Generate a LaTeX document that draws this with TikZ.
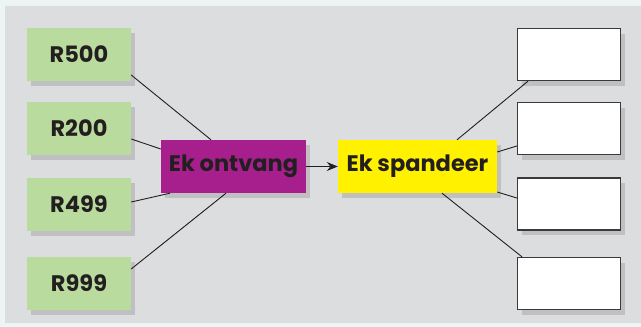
\documentclass[tikz,border=0pt]{standalone}
\usepackage{fontspec}
\setmainfont{Poppins}
\usepackage{xcolor}
\usetikzlibrary{arrows.meta, positioning, shadows}
\definecolor{cgreen}{HTML}{B9DC9E}
\definecolor{cpurple}{HTML}{A61F8D}
\definecolor{cyellow}{HTML}{FFF100}
\definecolor{cpanel}{HTML}{DCDDDF}
\definecolor{cframe}{HTML}{EDF4F4}
\definecolor{cline}{HTML}{231F20}
\definecolor{cedge}{HTML}{3A3A3C}

\begin{document}
\begin{tikzpicture}[
  x=1pt, y=-1pt,
  font=\fontsize{22.5}{26}\selectfont\bfseries,
  >={Stealth[length=11pt, width=9pt]},
  box/.style={minimum height=53pt, inner sep=0pt, text=cline,
              drop shadow={shadow xshift=4pt, shadow yshift=-5pt, opacity=0.3}},
  amount/.style={box, fill=cgreen, minimum width=104pt},
  getbox/.style={box, fill=cpurple, minimum width=145pt},
  spendbox/.style={box, fill=cyellow, minimum width=159pt},
  blank/.style={box, fill=white, draw=cedge, line width=1.3pt, minimum width=103pt, minimum height=52pt},
  link/.style={draw=cline, line width=0.9pt},
  ]
\useasboundingbox (0,0) rectangle (641,327);
% ---- background
\fill[cframe] (0,0) rectangle (641,327);
\fill[cpanel] (5,6) rectangle (641,323);
% ---- left column: amounts
\node[amount] (r500) at (79,54.5)  {R500};
\node[amount] (r200) at (79,128.5) {R200};
\node[amount] (r499) at (79,204.5) {R499};
\node[amount] (r999) at (79,283.5) {R999};
% ---- middle row
\node[getbox]   (ontv) at (233.5,166.5) {Ek ontvang};
\node[spendbox] (spnd) at (417.5,166.5) {Ek spandeer};
% ---- right column: empty boxes
\node[blank] (w1) at (569,54.5)  {};
\node[blank] (w2) at (569,128.5) {};
\node[blank] (w3) at (569,204)   {};
\node[blank] (w4) at (569,283.5) {};
% links left
\draw[link] ([yshift=-20.5pt]r500.east) -- ([xshift=-22.5pt]ontv.north);
\draw[link] ([yshift=-10.5pt]r200.east) -- ([yshift=17.5pt]ontv.west);
\draw[link] ([yshift=2.5pt]r499.east)   -- ([xshift=-63.5pt]ontv.south);
\draw[link] ([yshift=14.5pt]r999.east)  -- ([xshift=-7.5pt]ontv.south);
% arrow middle
\draw[link, ->] (ontv.east) -- (spnd.west);
% links right
\draw[link] ([xshift=39.5pt]spnd.north) -- ([xshift=-41pt]w1.south);
\draw[link] ([yshift=14.5pt]spnd.east)  -- ([yshift=-17.5pt]w2.west);
\draw[link] ([yshift=-25.5pt]spnd.east) -- ([yshift=6pt]w3.west);
\draw[link] ([xshift=24.5pt]spnd.south) -- ([xshift=-47pt]w4.north);
\end{tikzpicture}
\end{document}
